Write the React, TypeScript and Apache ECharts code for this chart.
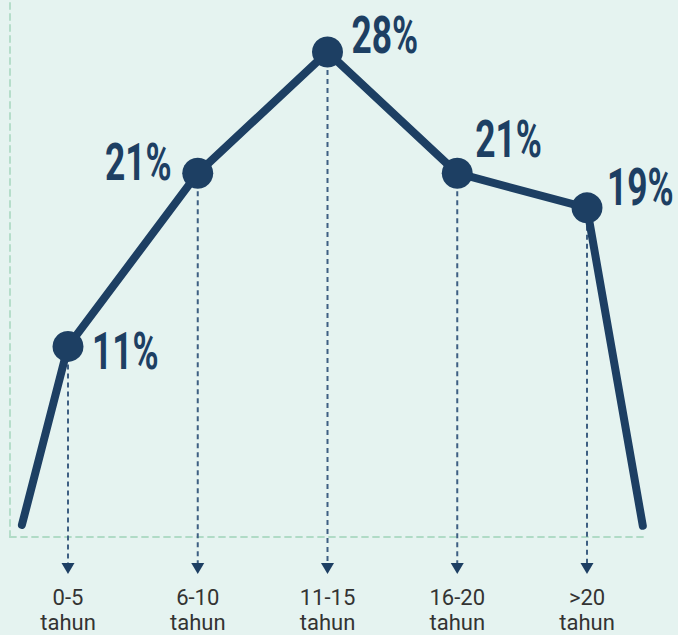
import React, { useEffect, useRef } from "react";
import * as echarts from "echarts";

const categories = ["0-5", "6-10", "11-15", "16-20", ">20"];
const unitLabel = "tahun";
const shares = [11, 21, 28, 21, 19];
const tailStart = [0.645, 0.7];
const tailEnd = [5.43, 0.65];

const NAVY = "#1d3f63";
const GUIDE = "#b0dbc6";
const BG = "#e5f3f0";

// label placement per point: [align, dx, dy]
const labelPlacement: [string, number, number][] = [
  ["left", 24, 5],
  ["right", -26, -11],
  ["left", 24, -17],
  ["left", 18, -34],
  ["left", 20, -20],
];

export default function App() {
  const ref = useRef<HTMLDivElement>(null);
  useEffect(() => {
    if (!ref.current) return;
    const chart = echarts.init(ref.current, null, { renderer: "svg" });
    const lineData = [
      { value: tailStart, symbol: "none", symbolSize: 0 },
      ...shares.map((v, i) => ({ value: [i + 1, v], symbol: "circle", symbolSize: 31 })),
      { value: tailEnd, symbol: "none", symbolSize: 0 },
    ];
    chart.setOption({
      animation: false,
      backgroundColor: BG,
      grid: { left: 10, right: 33, top: 0, bottom: 95 },
      xAxis: {
        type: "value",
        min: 0.553,
        max: 5.447,
        axisLine: { show: true, lineStyle: { color: GUIDE, width: 1.8, type: [6, 5] } },
        axisTick: { show: false },
        splitLine: { show: false },
        axisLabel: {
          customValues: [1, 2, 3, 4, 5],
          formatter: (v: number) => categories[Math.round(v) - 1] + "\n" + unitLabel,
          color: "#333333",
          fontSize: 22,
          lineHeight: 25,
          fontFamily: "Roboto, sans-serif",
          margin: 48,
        },
      },
      yAxis: {
        type: "value",
        min: 0,
        max: 31,
        axisLine: { show: true, lineStyle: { color: GUIDE, width: 1.8, type: [6, 5] } },
        axisTick: { show: false },
        splitLine: { show: false },
        axisLabel: { show: false },
      },
      series: [
        {
          type: "custom",
          clip: false,
          z: 1,
          silent: true,
          data: shares.map((v, i) => [i + 1, v]),
          renderItem: (params: any, api: any) => {
            const top = api.coord([api.value(0), api.value(1)]);
            const base = api.coord([api.value(0), 0]);
            const x = top[0];
            const tip = base[1] + 37;
            return {
              type: "group",
              children: [
                {
                  type: "line",
                  shape: { x1: x, y1: top[1], x2: x, y2: tip - 11 },
                  style: { stroke: "#3e5f82", lineWidth: 2, lineDash: [5, 4] },
                },
                {
                  type: "polygon",
                  shape: { points: [[x - 6.5, tip - 11], [x + 6.5, tip - 11], [x, tip]] },
                  style: { fill: NAVY },
                },
              ],
            };
          },
        },
        {
          type: "line",
          z: 3,
          silent: true,
          data: lineData,
          lineStyle: { color: NAVY, width: 8, cap: "round", join: "round" },
          itemStyle: { color: NAVY, borderWidth: 0 },
        },
        {
          type: "custom",
          clip: false,
          z: 5,
          silent: true,
          data: shares.map((v, i) => [i + 1, v]),
          renderItem: (params: any, api: any) => {
            const p = api.coord([api.value(0), api.value(1)]);
            const [align, dx, dy] = labelPlacement[params.dataIndex];
            return {
              type: "text",
              x: p[0] + dx,
              y: p[1] + dy,
              scaleX: 0.68,
              style: {
                text: api.value(1) + "%",
                fill: NAVY,
                fontSize: 52,
                fontWeight: "bold",
                fontFamily: "Roboto, sans-serif",
                align,
                verticalAlign: "middle",
              },
            };
          },
        },
      ],
    });
    return () => chart.dispose();
  }, []);
  return (
    <div
      ref={ref}
      style={{ position: "fixed", left: 0, top: 0, width: 678, height: 635, background: BG }}
    />
  );
}
